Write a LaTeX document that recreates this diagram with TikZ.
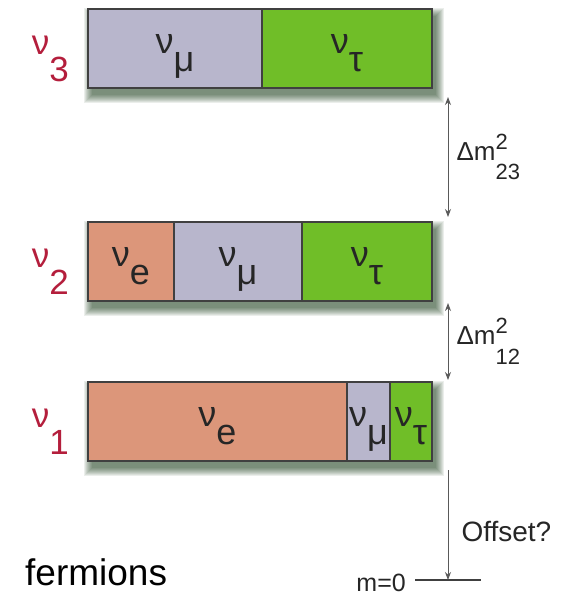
\documentclass[tikz,border=0pt]{standalone}
\usepackage{fontspec}
\setmainfont{Liberation Sans}
\usetikzlibrary{arrows.meta,positioning,backgrounds}

\definecolor{esalmon}{HTML}{DC967A}
\definecolor{mulilac}{HTML}{B8B6CC}
\definecolor{taugreen}{HTML}{70BE28}
\definecolor{massred}{HTML}{B41E3C}

% flavour and mass state labels, script set at full size and lowered
\newcommand{\flav}[1]{ν\raisebox{-0.5em}{#1}}
\newcommand{\mstate}[1]{ν\raisebox{-0.77em}{#1}}
\newcommand{\dmsq}[1]{Δm\rlap{\raisebox{0.42em}{\fontsize{22}{22}\selectfont 2}}\raisebox{-0.75em}{\fontsize{22}{22}\selectfont #1}}

\begin{document}
\begin{tikzpicture}[
    x=1pt, y=-1pt,
    segment/.style={draw=black!75, line width=1.2pt, minimum height=79pt, inner sep=0pt, outer sep=0pt,
        font=\fontsize{36}{36}\selectfont, text=black!85, text height=20pt, text depth=11pt},
    statelabel/.style={inner sep=0pt, text=massred, font=\fontsize{35}{35}\selectfont, text height=20pt, text depth=8pt},
    shadowstep/.style={fill=black!85!green, opacity=0.08},
    gaparrow/.style={<->, >={Stealth[length=8pt,width=6pt]}, line width=1pt, draw=black!65, fill=black!75},
    gaplabel/.style={right=8pt, inner sep=0pt, text=black!85, font=\fontsize{26}{26}\selectfont},
    zeroline/.style={line width=1.2pt, draw=black!75},
]
    \useasboundingbox (0,0) rectangle (568,598);

    % nu_3: mu and tau only
    \node[segment, fill=mulilac, minimum width=174pt, anchor=north west] (v3mu) at (88,9) {\flav{μ}};
    \node[segment, fill=taugreen, minimum width=170pt, right=0pt of v3mu] (v3tau) {\flav{τ}};
    \node[statelabel, left=19pt of v3mu] (v3) {\mstate{3}};

    % nu_2: all three flavours
    \node[segment, fill=esalmon, minimum width=86pt, anchor=north west] (v2e) at (88,222) {\flav{e}};
    \node[segment, fill=mulilac, minimum width=128pt, right=0pt of v2e] (v2mu) {\flav{μ}};
    \node[segment, fill=taugreen, minimum width=130pt, right=0pt of v2mu] (v2tau) {\flav{τ}};
    \node[statelabel, left=19pt of v2e] (v2) {\mstate{2}};

    % nu_1: mostly electron
    \node[segment, fill=esalmon, minimum width=259pt, anchor=north west] (v1e) at (88,382) {\flav{e}};
    \node[segment, fill=mulilac, minimum width=43pt, right=0pt of v1e] (v1mu) {\flav{μ}};
    \node[segment, fill=taugreen, minimum width=42pt, right=0pt of v1mu] (v1tau) {\flav{τ}};
    \node[statelabel, left=19pt of v1e] (v1) {\mstate{1}};

    % Soft shadows behind the bars
    \begin{scope}[on background layer]
        \foreach \first/\last in {v3mu/v3tau, v2e/v2tau, v1e/v1tau}
            \foreach \k in {0,...,8}
                \fill[shadowstep] ([xshift={4pt-\k*1pt}, yshift={-7pt+\k*1pt}]\first.north west)
                    rectangle ([xshift={4pt+\k*1pt}, yshift={-7pt-\k*1pt}]\last.south east);
    \end{scope}

    % Mass splittings
    \draw[gaparrow] ([xshift=16pt,yshift=-9pt]v3tau.south east)
        -- node[gaplabel] {\dmsq{23}} ([xshift=16pt,yshift=5pt]v2tau.north east);
    \draw[gaparrow] ([xshift=16pt,yshift=-2pt]v2tau.south east)
        -- node[gaplabel] {\dmsq{12}} ([xshift=16pt,yshift=2pt]v1tau.north east);

    % Zero of mass
    \coordinate (zl) at (415,580);
    \coordinate (zero) at (448,580);
    \coordinate (zr) at (481,580);
    \draw[zeroline] (zl) -- (zr);
    \node[left=9pt of zl, yshift=-3pt, inner sep=0pt, text=black!85, font=\fontsize{25}{25}\selectfont] (mzero) {m=0};
    \draw[gaparrow, <-] (zero) -- node[right=13pt, yshift=-6pt, inner sep=0pt, text=black!85, font=\fontsize{28}{28}\selectfont] (offset) {Offset?}
        ([xshift=16pt,yshift=-9pt]v1tau.south east);

    \node[anchor=base west, inner sep=0pt, font=\fontsize{37}{37}\selectfont] (fermions) at (25,585) {fermions};
\end{tikzpicture}
\end{document}
